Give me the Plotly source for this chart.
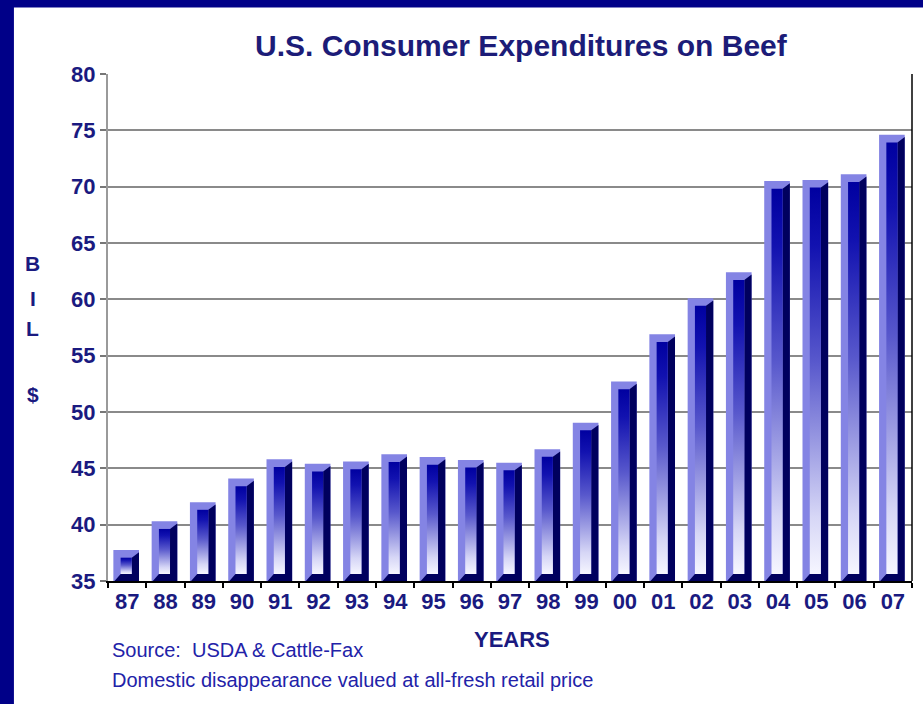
import plotly.graph_objects as go

years = ['87', '88', '89', '90', '91', '92', '93', '94', '95', '96', '97',
         '98', '99', '00', '01', '02', '03', '04', '05', '06', '07']
values = [37.75, 40.3, 42.0, 44.1, 45.8, 45.4, 45.6, 46.25, 46.0, 45.75, 45.5,
          46.7, 49.05, 52.7, 56.9, 60.1, 62.4, 70.5, 70.6, 71.1, 74.6]
y_ticks = [35, 40, 45, 50, 55, 60, 65, 70, 75, 80]

BASE = 35
NAVY_TXT = '#1a1a80'
FONT_B = 'Liberation Sans, Arial, sans-serif'

# bar geometry in category units
L, R, IL, IR = -0.36, 0.31, -0.17, 0.12
DT, DB, DS = 0.68, 0.62, 0.2

xs = list(range(len(years)))
fig = go.Figure()

# outer lavender body (the data bars)
fig.add_trace(go.Bar(
    x=xs, y=[v - BASE for v in values], base=BASE,
    width=R - L, offset=L,
    marker=dict(color='#8484e4', line=dict(width=0)),
    hoverinfo='skip', showlegend=False))

# dark side/bottom faces
dx, dy = [], []
for i, v in zip(xs, values):
    dx += [i + IR, i + R, i + R, i + L + 0.03, i + IL, i + IR, i + IR, None]
    dy += [v - DT, v - DS, BASE, BASE, BASE + DB, BASE + DB, v - DT, None]
fig.add_trace(go.Scatter(x=dx, y=dy, mode='lines', fill='toself',
                         fillcolor='#00005e', line=dict(width=0, color='#00005e'),
                         hoverinfo='skip', showlegend=False))

# inner gradient faces
scale = [[0, '#f6f6ff'], [0.15, '#d6d6f6'], [0.55, '#5858cc'],
         [0.85, '#1212b0'], [1, '#0000a0']]
for i, v in zip(xs, values):
    fig.add_trace(go.Scatter(
        x=[i + IL, i + IR, i + IR, i + IL, i + IL],
        y=[BASE + DB, BASE + DB, v - DT, v - DT, BASE + DB],
        mode='lines', fill='toself', line=dict(width=0),
        fillgradient=dict(type='vertical', colorscale=scale),
        hoverinfo='skip', showlegend=False))

shapes = [
    dict(type='rect', xref='paper', yref='paper', x0=-0.117, x1=1.05,
         y0=-0.3, y1=1.131, fillcolor='white', line=dict(width=0), layer='below'),
    dict(type='line', xref='paper', yref='paper', x0=1, x1=1, y0=0, y1=1,
         line=dict(color='black', width=1.5)),
]

ann = [
    dict(text='U.S. Consumer Expenditures on Beef', x=0.5137, y=1.057,
         font=dict(size=30, color='#1c1c78', family=FONT_B, weight='bold')),
    dict(text='YEARS', x=0.502, y=-0.1144,
         font=dict(size=22, color=NAVY_TXT, family=FONT_B, weight='bold')),
    dict(text='Source:  USDA &amp; Cattle-Fax', x=0.0025, y=-0.137, xanchor='left',
         font=dict(size=20, color='#2222a8', family=FONT_B)),
    dict(text='Domestic disappearance valued at all-fresh retail price', x=0.0025,
         y=-0.196, xanchor='left',
         font=dict(size=20, color='#2222a8', family=FONT_B)),
]
for ch, yy in zip(['B', 'I', 'L', '$'], [0.627, 0.558, 0.499, 0.367]):
    ann.append(dict(text=ch, x=-0.0933, y=yy,
                    font=dict(size=21, color=NAVY_TXT, family=FONT_B, weight='bold')))
for a in ann:
    a.update(xref='paper', yref='paper', showarrow=False,
             yanchor='middle', xanchor=a.get('xanchor', 'center'))

fig.update_layout(
    width=923, height=704,
    margin=dict(l=108, r=11, t=74, b=123),
    paper_bgcolor='#000088', plot_bgcolor='white',
    shapes=shapes, annotations=ann, showlegend=False,
    xaxis=dict(range=[-0.5, len(years) - 0.5], tickmode='array', tickvals=xs,
               ticktext=years, ticks='', showgrid=False, zeroline=False,
               showline=True, linecolor='black', linewidth=1.5,
               tickfont=dict(size=22, color=NAVY_TXT, family=FONT_B, weight='bold'),
               minor=dict(tickmode='array',
                          tickvals=[i - 0.5 for i in range(len(years) + 1)],
                          ticks='outside', ticklen=5, tickcolor='black',
                          tickwidth=1.5, showgrid=False)),
    yaxis=dict(range=[35, 80], tickmode='array', tickvals=y_ticks,
               ticks='outside', ticklen=6, tickcolor='#777777', tickwidth=1.5,
               showgrid=True, gridcolor='#8a8a8a', gridwidth=2, zeroline=False,
               showline=True, linecolor='#9a9a9a', linewidth=2,
               tickfont=dict(size=22, color=NAVY_TXT, family=FONT_B, weight='bold')),
)

fig.write_html('out.html', config={'displayModeBar': False},
               post_script="document.body.style.margin='0';"
                           "document.body.style.overflow='hidden';")
